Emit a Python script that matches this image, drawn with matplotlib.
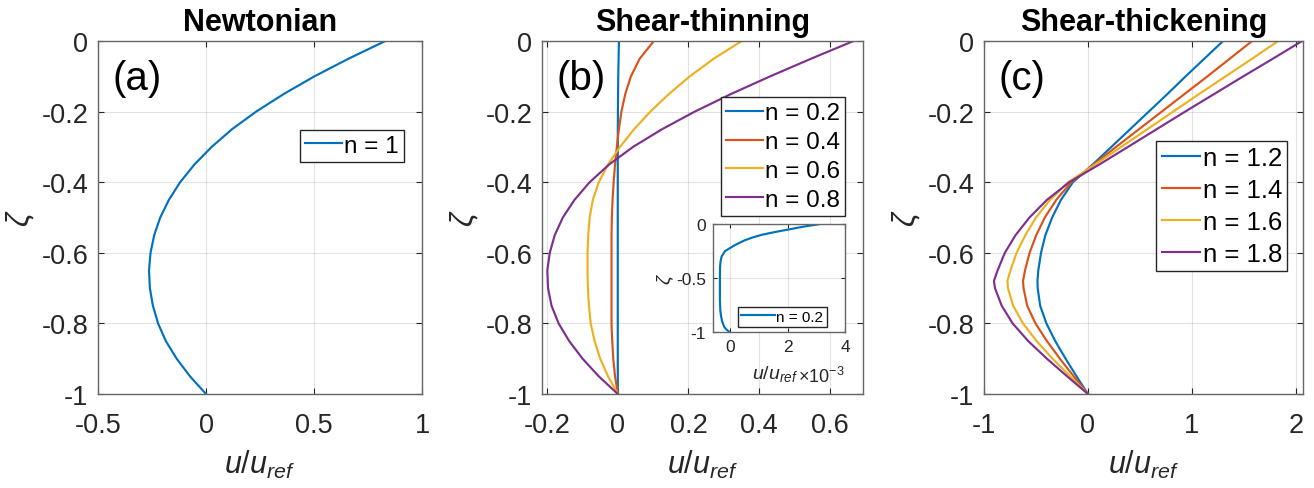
import numpy as np
import matplotlib.pyplot as plt

plt.rcParams['font.family'] = ['Liberation Sans', 'DejaVu Sans']
plt.rcParams['axes.unicode_minus'] = False
plt.rcParams['mathtext.fontset'] = 'custom'
plt.rcParams['mathtext.it'] = 'Liberation Sans:italic'
plt.rcParams['mathtext.rm'] = 'Liberation Sans'

# depth coordinate (values at these levels)
zeta = [0, -0.05, -0.1, -0.15, -0.2, -0.25, -0.3, -0.35, -0.4, -0.45, -0.5,
        -0.55, -0.6, -0.65, -0.7, -0.75, -0.8, -0.85, -0.9, -0.95, -1]

# (a) Newtonian
u_newt = [0.83, 0.66, 0.502, 0.36, 0.232, 0.12, 0.026, -0.054, -0.12, -0.172, -0.212,
          -0.24, -0.257, -0.264, -0.26, -0.246, -0.222, -0.186, -0.136, -0.074, 0]

# (b) shear-thinning
thin_labels = ['n = 0.2', 'n = 0.4', 'n = 0.6', 'n = 0.8']
zeta_02 = [0, -0.025, -0.05, -0.075, -0.1, -0.125, -0.15, -0.175, -0.2, -0.25, -0.3,
           -0.35, -0.4, -0.5, -0.6, -0.7, -0.8, -0.85, -0.9, -0.95, -0.975, -1]
u_02_milli = [3.14, 2.55, 2.05, 1.55, 1.1, 0.78, 0.52, 0.32, 0.14, -0.17, -0.29,
              -0.33, -0.345, -0.35, -0.35, -0.35, -0.335, -0.31, -0.27, -0.2, -0.12, 0]
u_04 = [0.102, 0.062, 0.037, 0.021, 0.01, 0.003, -0.003, -0.008, -0.012, -0.015, -0.017,
        -0.018, -0.018, -0.018, -0.018, -0.018, -0.018, -0.016, -0.013, -0.008, 0]
u_06 = [0.351, 0.272, 0.204, 0.145, 0.092, 0.046, 0.006, -0.028, -0.054, -0.071, -0.08,
        -0.084, -0.086, -0.086, -0.085, -0.082, -0.077, -0.066, -0.05, -0.028, 0]
u_08 = [0.668, 0.548, 0.432, 0.321, 0.218, 0.125, 0.043, -0.025, -0.08, -0.123, -0.156,
        -0.179, -0.193, -0.2, -0.198, -0.188, -0.168, -0.138, -0.1, -0.054, 0]

# (c) shear-thickening
thick_labels = ['n = 1.2', 'n = 1.4', 'n = 1.6', 'n = 1.8']
zeta_c = [0, -0.05, -0.1, -0.15, -0.2, -0.25, -0.3, -0.35, -0.4, -0.45, -0.5,
          -0.55, -0.6, -0.65, -0.68, -0.7, -0.75, -0.8, -0.85, -0.9, -0.95, -1]
u_12 = [1.30, 1.12, 0.94, 0.765, 0.585, 0.405, 0.225, 0.045, -0.145, -0.26, -0.345,
        -0.41, -0.452, -0.478, -0.486, -0.484, -0.46, -0.40, -0.315, -0.215, -0.11, 0]
u_14 = [1.58, 1.365, 1.15, 0.93, 0.71, 0.49, 0.27, 0.055, -0.16, -0.305, -0.415,
        -0.498, -0.562, -0.606, -0.625, -0.62, -0.585, -0.505, -0.395, -0.27, -0.137, 0]
u_16 = [1.83, 1.58, 1.325, 1.07, 0.82, 0.57, 0.32, 0.068, -0.19, -0.365, -0.50,
        -0.603, -0.687, -0.746, -0.775, -0.77, -0.72, -0.625, -0.495, -0.34, -0.172, 0]
u_18 = [2.06, 1.78, 1.495, 1.215, 0.935, 0.66, 0.385, 0.108, -0.18, -0.395, -0.563,
        -0.697, -0.80, -0.87, -0.905, -0.895, -0.83, -0.725, -0.575, -0.395, -0.20, 0]

colors = ['#0072BD', '#D95319', '#EDB120', '#7E2F8E']
ax_col = '#262626'
lw = 1.55

fig = plt.figure(figsize=(13.14, 4.89), dpi=100)
ax_a = fig.add_axes([0.0746, 0.1922, 0.2466, 0.7219])
ax_b = fig.add_axes([0.4125, 0.1922, 0.2443, 0.7219])
ax_c = fig.add_axes([0.7489, 0.1922, 0.2428, 0.7219])


def style(ax, size=19.5):
    ax.grid(True, color=ax_col, alpha=0.13, lw=0.8)
    ax.set_axisbelow(True)
    ax.tick_params(direction='in', top=True, right=True, labelsize=size,
                   colors=ax_col, length=4, width=0.8)
    ax.tick_params(axis='y', pad=7)
    ax.tick_params(axis='x', pad=13)
    for s in ax.spines.values():
        s.set_color('#666666')
        s.set_linewidth(1.0)


def finish(ax, title, tag):
    ax.set_ylim(-1, 0)
    ax.set_yticks([0, -0.2, -0.4, -0.6, -0.8, -1])
    ax.set_yticklabels(['0', '-0.2', '-0.4', '-0.6', '-0.8', '-1'])
    ax.set_title(title, fontsize=22, fontweight='bold', pad=8)
    ax.set_xlabel(r'$u/u_{ref}$', fontsize=22, color=ax_col, labelpad=7)
    ax.set_ylabel('ζ', fontsize=22, style='italic', color=ax_col, labelpad=5)
    ax.text(0.045, 0.895, tag, transform=ax.transAxes, fontsize=29, va='center')
    style(ax)


def add_legend(ax, anchor, size=17.5, spacing=0.3):
    ax.legend(loc='upper right', bbox_to_anchor=anchor, fontsize=size,
              frameon=True, fancybox=False, edgecolor=ax_col, framealpha=1,
              handlelength=1.5, handletextpad=0.1, borderpad=0.2,
              borderaxespad=0, labelspacing=spacing)


# (a)
ax_a.plot(u_newt, zeta, color=colors[0], lw=lw, label='n = 1')
ax_a.set_xlim(-0.5, 1)
ax_a.set_xticks([-0.5, 0, 0.5, 1])
ax_a.set_xticklabels(['-0.5', '0', '0.5', '1'])
finish(ax_a, 'Newtonian', '(a)')
add_legend(ax_a, (0.943, 0.748))

# (b)
u_02 = [v * 1e-3 for v in u_02_milli]
ax_b.plot(u_02, zeta_02, color=colors[0], lw=lw, label=thin_labels[0])
for u, c, lab in zip([u_04, u_06, u_08], colors[1:], thin_labels[1:]):
    ax_b.plot(u, zeta, color=c, lw=lw, label=lab)
ax_b.set_xlim(-0.215, 0.695)
ax_b.set_xticks([-0.2, 0, 0.2, 0.4, 0.6])
ax_b.set_xticklabels(['-0.2', '0', '0.2', '0.4', '0.6'])
finish(ax_b, 'Shear-thinning', '(b)')
add_legend(ax_b, (0.944, 0.84), spacing=0.28)

# inset of n = 0.2
ax_in = fig.add_axes([0.5424, 0.3184, 0.1007, 0.2215])
ax_in.plot(u_02_milli, zeta_02, color=colors[0], lw=lw, label=thin_labels[0])
ax_in.set_xlim(-0.6, 4)
ax_in.set_ylim(-1, 0)
ax_in.set_xticks([0, 2, 4])
ax_in.set_yticks([0, -0.5, -1])
ax_in.set_yticklabels(['0', '-0.5', '-1'])
style(ax_in, size=12.5)
ax_in.tick_params(axis='both', pad=5, length=3)
ax_in.set_xlabel(r'$u/u_{ref}$', fontsize=14, color=ax_col)
ax_in.xaxis.set_label_coords(0.47, -0.28)
ax_in.text(1.0, -0.40, r'$\times10^{-3}$', transform=ax_in.transAxes, fontsize=13,
           color=ax_col, ha='right', va='center')
ax_in.set_ylabel('ζ', fontsize=14, style='italic', color=ax_col, labelpad=2)
ax_in.legend(loc='lower right', bbox_to_anchor=(0.86, 0.05), fontsize=11,
             frameon=True, fancybox=False, edgecolor=ax_col, framealpha=1,
             handlelength=2.2, handletextpad=0.1, borderpad=0.2, borderaxespad=0)

# (c)
for u, c, lab in zip([u_12, u_14, u_16, u_18], colors, thick_labels):
    ax_c.plot(u, zeta_c, color=c, lw=lw, label=lab)
ax_c.set_xlim(-1, 2.07)
ax_c.set_xticks([-1, 0, 1, 2])
ax_c.set_xticklabels(['-1', '0', '1', '2'])
finish(ax_c, 'Shear-thickening', '(c)')
add_legend(ax_c, (0.95, 0.718), size=18.5, spacing=0.32)

fig.savefig('out.png', dpi=100)
